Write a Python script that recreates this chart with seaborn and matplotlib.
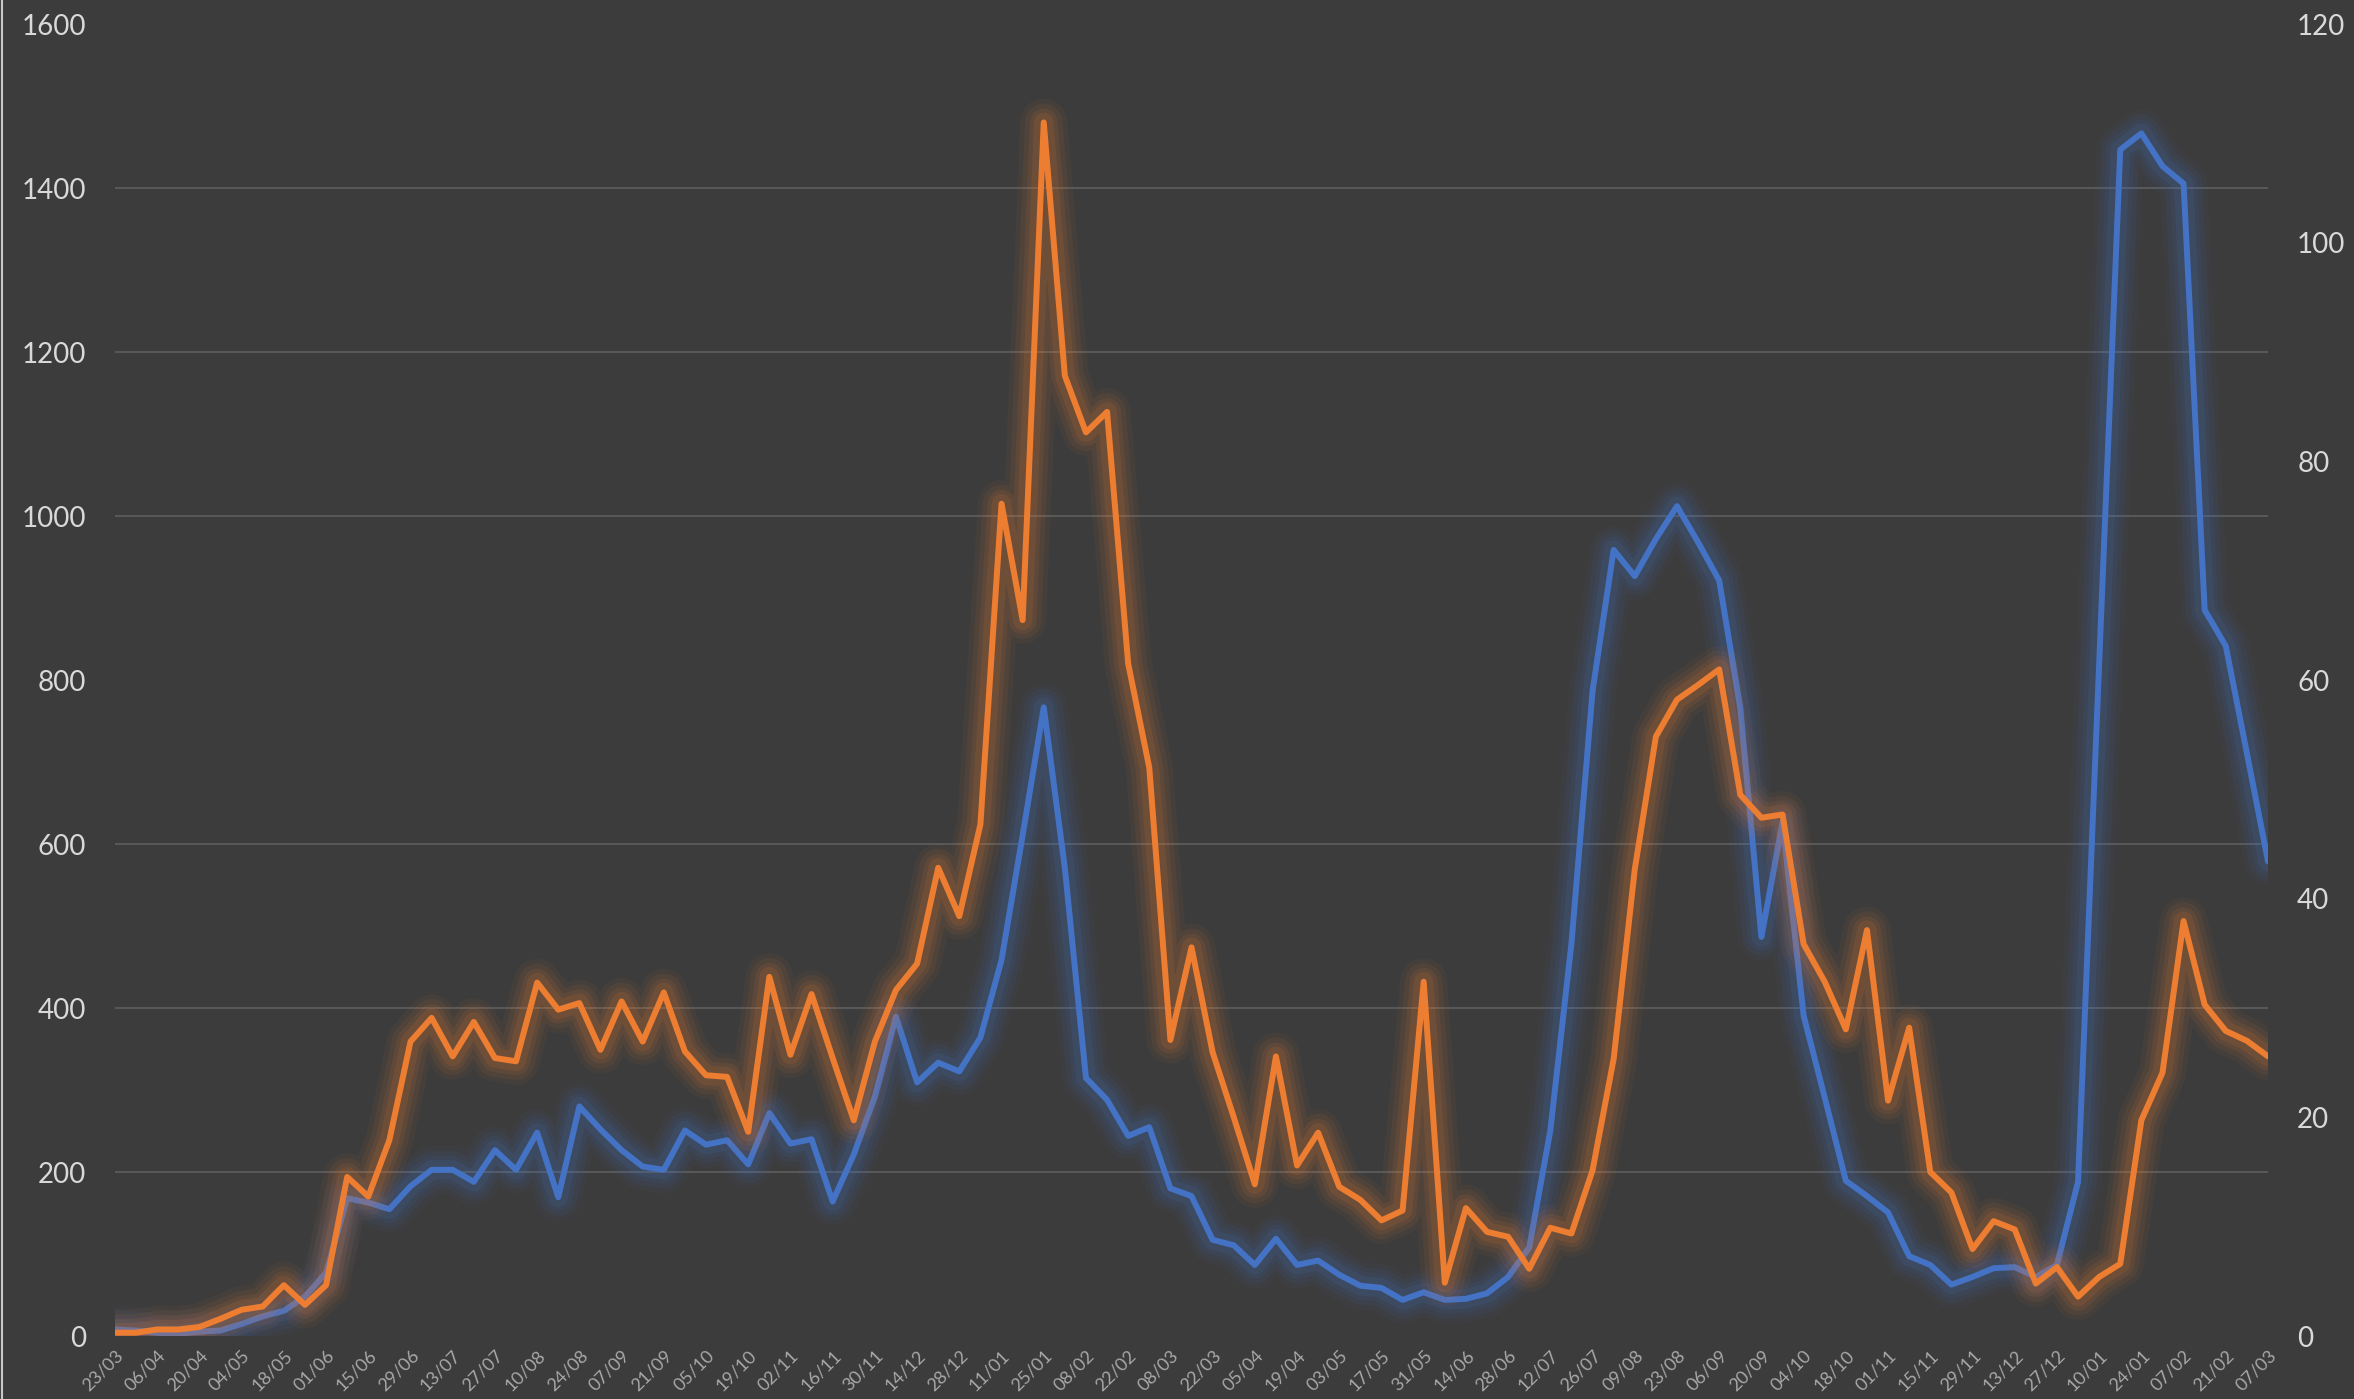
import pandas as pd
import seaborn as sns
import matplotlib.pyplot as plt
import matplotlib.patheffects as pe
from matplotlib.ticker import FixedLocator
from matplotlib.lines import Line2D

# weekly points, 23/03/2020 -> 07/03/2022
weeks = pd.date_range("2020-03-23", periods=103, freq="7D")

# orange series, left axis (0-1600)
orange_vals = [4, 4, 8, 8, 11, 21, 32, 36, 62, 38,
               62, 194, 170, 239, 359, 388, 341, 383, 339, 335,
               431, 398, 406, 349, 408, 359, 419, 347, 318, 316,
               249, 438, 343, 417, 339, 263, 359, 422, 454, 571,
               512, 624, 1015, 873, 1480, 1171, 1102, 1127, 820, 693,
               361, 474, 346, 267, 185, 341, 208, 248, 182, 166,
               141, 153, 432, 65, 156, 127, 121, 82, 132, 125,
               202, 338, 569, 731, 776, 794, 813, 660, 632, 636,
               478, 432, 374, 495, 287, 376, 200, 175, 106, 140,
               130, 64, 84, 48, 72, 88, 263, 321, 506, 404,
               372, 360, 341]

# blue series, right axis (0-120)
blue_vals = [0.6, 0.5, 0.3, 0.2, 0.4, 0.5, 1.1, 1.8, 2.3, 3.6,
             5.8, 12.6, 12.2, 11.6, 13.7, 15.2, 15.2, 14.1, 17.0, 15.2,
             18.6, 12.7, 21.0, 18.9, 17.0, 15.5, 15.2, 18.8, 17.5, 17.9,
             15.7, 20.4, 17.6, 18.0, 12.3, 16.6, 21.9, 29.2, 23.2, 25.0,
             24.2, 27.3, 34.4, 45.8, 57.5, 42.8, 23.6, 21.6, 18.3, 19.1,
             13.5, 12.8, 8.8, 8.3, 6.5, 8.9, 6.5, 6.9, 5.6, 4.6,
             4.4, 3.3, 4.0, 3.3, 3.4, 3.9, 5.4, 8.1, 18.8, 35.9,
             59.0, 71.9, 69.5, 72.9, 75.9, 72.6, 69.1, 57.4, 36.5, 47.0,
             29.3, 21.8, 14.2, 12.8, 11.3, 7.3, 6.5, 4.7, 5.4, 6.2,
             6.3, 5.4, 6.5, 14.1, 61.5, 108.5, 110.0, 107.0, 105.4, 66.4,
             63.1, 53.3, 43.4]

left_ticks = list(range(0, 1601, 200))
right_ticks = list(range(0, 121, 20))
grid_right = [v * 120 / 1600 for v in left_ticks]

bg = "#3c3c3c"
orange = "#ed7d31"
blue = "#4472c4"

sns.set_theme(style="dark", rc={"axes.facecolor": bg, "figure.facecolor": bg})
plt.rcParams["font.family"] = ["Lato", "DejaVu Sans"]


def glow(c):
    effects = [pe.Stroke(linewidth=w, foreground=c, alpha=a)
               for w, a in [(34, 0.05), (27, 0.07), (20, 0.09), (14, 0.12)]]
    return effects + [pe.Normal()]


fig = plt.figure(figsize=(23.54, 13.99), dpi=100)
ax = fig.add_axes([0.04885, 0.04503, 0.91462, 0.93781])
ax2 = ax.twinx()
# orange sits on top of blue
ax.set_zorder(ax2.get_zorder() + 1)
ax.patch.set_visible(False)

sns.lineplot(x=weeks, y=blue_vals, ax=ax2, color=blue, linewidth=4.3)
ax2.lines[-1].set_path_effects(glow(blue))
sns.lineplot(x=weeks, y=orange_vals, ax=ax, color=orange, linewidth=4.3)
ax.lines[-1].set_path_effects(glow(orange))

ax.set_xlim(weeks[0], weeks[-1])
ax.set_ylim(0, 1600)
ax2.set_ylim(0, 120)

ax.set_yticks(left_ticks)
ax2.set_yticks(right_ticks)
ax.grid(False)
ax2.grid(False)
ax2.yaxis.set_minor_locator(FixedLocator(grid_right))
ax2.grid(which="minor", axis="y", color="#595959", linewidth=1.4)
ax2.set_axisbelow(True)

ax.set_xticks(weeks[::2])
ax.set_xticklabels([d.strftime("%d/%m") for d in weeks[::2]], rotation=45,
                   ha="right", rotation_mode="anchor", fontsize=13, color="#a8a8a8")

for a in (ax, ax2):
    a.tick_params(axis="y", which="both", length=0, pad=21, labelsize=20, labelcolor="#d9d9d9")
    a.set_xlabel("")
    a.set_ylabel("")
    for s in a.spines.values():
        s.set_visible(False)
ax.tick_params(axis="x", length=0, pad=8)

fig.add_artist(Line2D([0.0008, 0.0008], [0, 1], transform=fig.transFigure,
                      color="#c8c8c8", linewidth=1.5))

fig.savefig("out.png", dpi=100, facecolor=bg)
